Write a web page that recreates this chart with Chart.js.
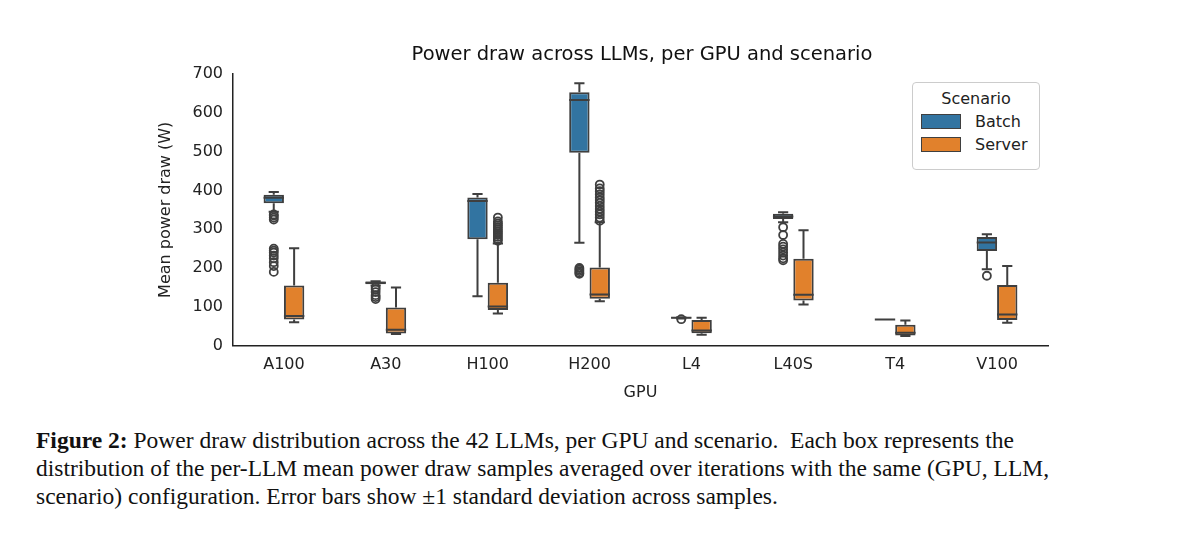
<!DOCTYPE html>
<html>
<head>
<meta charset="utf-8">
<script src="https://cdn.jsdelivr.net/npm/chart.js@4"></script>
<style>
  body { margin: 0; background: #fff; width: 1200px; height: 536px; overflow: hidden; }
  #wrap { position: relative; width: 1200px; height: 410px; }
  #title { position: absolute; left: 0; top: 42px; width: 1284px; text-align: center;
           font-family: "DejaVu Sans", sans-serif; font-size: 19.5px; color: #111; }
  #legend { position: absolute; left: 912px; top: 82px; width: 126px; height: 86px; border: 1px solid #ccc;
            border-radius: 4px; font-family: "DejaVu Sans", sans-serif; font-size: 16px; color: #222; background: #fff; }
  #legend .t { text-align: center; margin-top: 6px; }
  #legend .r { display: flex; align-items: center; margin: 4px 0 0 8px; }
  #legend .sw { width: 38px; height: 13px; border: 1px solid #3f3f3f; margin-right: 14px; }
  #caption { position: absolute; left: 36px; top: 426px; width: 1170px; font-family: "Liberation Serif", serif;
             font-size: 23.5px; line-height: 28px; color: #111; white-space: nowrap; }
</style>
</head>
<body>
<div id="wrap"><canvas id="c" width="1200" height="410"></canvas>
  <div id="title">Power draw across LLMs, per GPU and scenario</div>
  <div id="legend">
    <div class="t">Scenario</div>
    <div class="r"><span class="sw" style="background:#3274a1"></span>Batch</div>
    <div class="r"><span class="sw" style="background:#e1812c"></span>Server</div>
  </div>
</div>
<div id="caption"><span id="l1"><b>Figure 2:</b> Power draw distribution across the 42 LLMs, per GPU and scenario.&nbsp; Each box represents the</span><br><span id="l2">distribution of the per-LLM mean power draw samples averaged over iterations with the same (GPU, LLM,</span><br>scenario) configuration. Error bars show ±1 standard deviation across samples.</div>
<script>
const gpus = ['A100', 'A30', 'H100', 'H200', 'L4', 'L40S', 'T4', 'V100'];
const yTicks = [0, 100, 200, 300, 400, 500, 600, 700];

// [low whisker, q1, median, q3, high whisker]
const batchStats = [
  [345, 367, 381, 389, 396],
  [155, 158, 162, 165, 166],
  [127, 274, 373, 382, 391],
  [265, 497, 633, 653, 676],
  [70, 70, 72, 73, 73],
  [318, 326, 333, 340, 344],
  [67, 67, 67, 67, 67],
  [197, 244, 266, 280, 287]
];
const serverStats = [
  [60, 67, 76, 155, 251],
  [30, 31, 41, 98, 150],
  [83, 92, 101, 162, 263],
  [114, 121, 132, 201, 318],
  [28, 32, 39, 66, 72],
  [106, 116, 131, 224, 297],
  [25, 26, 33, 54, 65],
  [59, 66, 80, 156, 205]
];
const batchOutliers = [
  [338, 335, 330, 325, 250, 245, 240, 232, 225, 215, 205, 190],
  [150, 145, 138, 130, 125, 120],
  [],
  [200, 196, 192, 188, 185],
  [68],
  [305, 285, 262, 255, 248, 240, 232, 225, 220],
  [],
  [180]
];
const serverOutliers = [
  [],
  [],
  [270, 275, 280, 285, 290, 295, 300, 305, 310, 315, 320, 330],
  [322, 330, 338, 345, 352, 360, 368, 375, 382, 390, 398, 405, 415],
  [],
  [],
  [],
  []
];

const edge = '#3f3f3f';

const boxPlugin = {
  id: 'boxes',
  afterDatasetsDraw(chart) {
    const ctx = chart.ctx;
    const y = chart.scales.y;
    [[batchStats, batchOutliers], [serverStats, serverOutliers]].forEach(([stats, outs], di) => {
      const meta = chart.getDatasetMeta(di);
      meta.data.forEach((bar, i) => {
        const s = stats[i];
        const cx = bar.x, half = bar.width / 2, cap = half / 2;
        ctx.save();
        ctx.strokeStyle = edge;
        ctx.lineWidth = 2;
        ctx.beginPath();
        ctx.moveTo(cx, y.getPixelForValue(s[0])); ctx.lineTo(cx, y.getPixelForValue(s[1]));
        ctx.moveTo(cx, y.getPixelForValue(s[3])); ctx.lineTo(cx, y.getPixelForValue(s[4]));
        ctx.moveTo(cx - cap, y.getPixelForValue(s[0])); ctx.lineTo(cx + cap, y.getPixelForValue(s[0]));
        ctx.moveTo(cx - cap, y.getPixelForValue(s[4])); ctx.lineTo(cx + cap, y.getPixelForValue(s[4]));
        ctx.moveTo(cx - half, y.getPixelForValue(s[2])); ctx.lineTo(cx + half, y.getPixelForValue(s[2]));
        ctx.stroke();
        ctx.lineWidth = 1.8;
        outs[i].forEach(v => {
          ctx.beginPath();
          ctx.arc(cx, y.getPixelForValue(v), 4, 0, Math.PI * 2);
          ctx.stroke();
        });
        ctx.restore();
      });
    });
  }
};

new Chart(document.getElementById('c'), {
  type: 'bar',
  data: {
    labels: gpus,
    datasets: [
      { label: 'Batch', data: batchStats.map(s => [s[1], s[3]]), backgroundColor: '#3274a1' },
      { label: 'Server', data: serverStats.map(s => [s[1], s[3]]), backgroundColor: '#e1812c' }
    ].map(d => Object.assign(d, { borderColor: edge, borderWidth: 2, borderSkipped: false,
                                  categoryPercentage: 0.4, barPercentage: 1 }))
  },
  options: {
    responsive: false,
    animation: false,
    layout: { padding: { left: 156, right: 152, top: 74, bottom: 4 } },
    plugins: {
      legend: { display: false },
      tooltip: { enabled: false }
    },
    scales: {
      x: {
        grid: { display: false, drawTicks: true, tickLength: 6, color: '#222' },
        border: { color: '#222', width: 1.5 },
        ticks: { color: '#222', font: { family: 'DejaVu Sans', size: 16 }, padding: 4 },
        title: { display: true, text: 'GPU', color: '#222', font: { family: 'DejaVu Sans', size: 16 }, padding: { top: 4 } }
      },
      y: {
        min: 0, max: 700,
        afterBuildTicks: s => { s.ticks = yTicks.map(v => ({ value: v })); },
        afterFit: s => { s.width = 77; },
        grid: { display: false, drawTicks: true, tickLength: 6, color: '#222' },
        border: { color: '#222', width: 1.5 },
        ticks: { color: '#222', font: { family: 'DejaVu Sans', size: 16 }, padding: 4 },
        title: { display: true, text: 'Mean power draw (W)', color: '#222', font: { family: 'DejaVu Sans', size: 16 }, padding: 0 }
      }
    }
  },
  plugins: [boxPlugin]
});
</script>
</body>
</html>
